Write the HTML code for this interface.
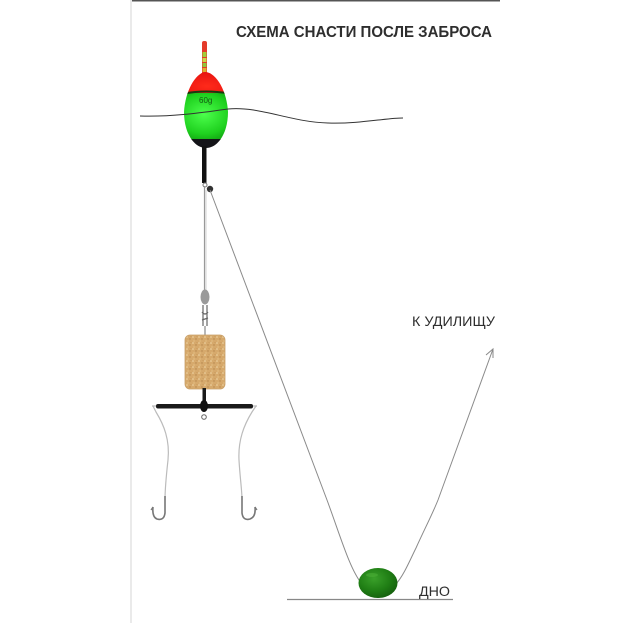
<!DOCTYPE html>
<html><head><meta charset="utf-8"><style>
html,body{margin:0;padding:0;background:#fff;}
svg{display:block;}
</style></head><body>
<svg width="640" height="640" viewBox="0 0 640 640" xmlns="http://www.w3.org/2000/svg">
<defs>
<radialGradient id="gr" cx="0.4" cy="0.45" r="0.6">
<stop offset="0" stop-color="#4cff4c"/><stop offset="0.7" stop-color="#1fd11f"/><stop offset="1" stop-color="#12a512"/>
</radialGradient>
<radialGradient id="rd" cx="0.45" cy="0.7" r="0.7">
<stop offset="0" stop-color="#ff2a1a"/><stop offset="1" stop-color="#e00d0d"/>
</radialGradient>
<radialGradient id="sk" cx="0.4" cy="0.35" r="0.7">
<stop offset="0" stop-color="#3aa02a"/><stop offset="0.6" stop-color="#1f7d14"/><stop offset="1" stop-color="#155e0e"/>
</radialGradient>
<pattern id="cork" width="6" height="6" patternUnits="userSpaceOnUse">
<rect width="6" height="6" fill="#d6a96c"/>
<circle cx="1" cy="1" r="0.8" fill="#f0d7a8"/>
<circle cx="4" cy="3" r="0.7" fill="#b3844a"/>
<circle cx="2" cy="5" r="0.6" fill="#eccb93"/>
<circle cx="5" cy="0.5" r="0.5" fill="#c49458"/>
</pattern>
<clipPath id="fb"><path d="M205.5,72 C195,73 185,92 184,112 C184,133 194,148 206,148 C218,148 228,133 228,112 C227,92 217,73 205.5,72 Z"/></clipPath>
</defs>

<!-- frame lines -->
<line x1="132" y1="0.8" x2="500" y2="0.8" stroke="#555" stroke-width="1.5"/>
<line x1="131" y1="0" x2="131" y2="623" stroke="#e3e3e3" stroke-width="1.5"/>

<!-- title -->
<text x="236" y="37" font-family="Liberation Sans, sans-serif" font-weight="bold" font-size="16" fill="#2e2e2e" textLength="256" lengthAdjust="spacingAndGlyphs">СХЕМА СНАСТИ ПОСЛЕ ЗАБРОСА</text>

<!-- float antenna -->
<rect x="202" y="41" width="5" height="34" rx="2" fill="#e43a2a"/>
<rect x="202.5" y="52" width="4" height="5" fill="#9fcf3a"/>
<rect x="202.5" y="58" width="4" height="4" fill="#c9d84a"/>
<rect x="202.5" y="63" width="4" height="4" fill="#8fc83a"/>
<rect x="202.5" y="68" width="4" height="4" fill="#e0b030"/>

<!-- float body -->
<g clip-path="url(#fb)">
<rect x="180" y="68" width="60" height="26" fill="url(#rd)"/>
<rect x="180" y="93" width="60" height="47" fill="url(#gr)"/>
<rect x="180" y="139" width="60" height="12" fill="#141418"/>
<path d="M182,94 Q206,89 232,94" stroke="#1a3a10" stroke-width="2" fill="none"/>
</g>
<text x="199" y="103" font-family="Liberation Sans, sans-serif" font-size="8" fill="#135a13">60g</text>

<!-- water line -->
<path d="M140,116 C170,117 200,113 228,109 C260,106 290,122 328,123 C360,124 385,118 403,118" stroke="#333" stroke-width="1" fill="none"/>

<!-- stem -->
<rect x="202" y="146" width="4.5" height="37" fill="#111"/>
<circle cx="205" cy="185" r="2" fill="none" stroke="#777" stroke-width="1"/>
<circle cx="210" cy="189" r="3.2" fill="#333"/>

<!-- vertical mainline to feeder -->
<line x1="204.5" y1="186" x2="204.5" y2="292" stroke="#999" stroke-width="1.2"/>
<line x1="206" y1="190" x2="206" y2="292" stroke="#c8c8c8" stroke-width="0.8"/>

<!-- grey bead & clip -->
<ellipse cx="205" cy="297" rx="4.5" ry="7.5" fill="#9a9a9a"/>
<path d="M203,305 L203,326 M207,305 L207,326 M202,312 Q205,316 208,312 M202,320 L208,318" stroke="#666" stroke-width="1.2" fill="none"/>
<line x1="205" y1="326" x2="205" y2="336" stroke="#888" stroke-width="1.2"/>

<!-- cork feeder -->
<rect x="185" y="335" width="40" height="54" rx="5" fill="url(#cork)"/>
<rect x="185" y="335" width="40" height="54" rx="5" fill="none" stroke="#c9a06a" stroke-width="0.8"/>

<!-- feeder stem & bar -->
<rect x="202.5" y="388" width="3.5" height="18" fill="#1a1a1a"/>
<rect x="156" y="404" width="97" height="4.5" rx="2" fill="#1a1a1a"/>
<ellipse cx="204" cy="406" rx="4" ry="6" fill="#111"/>
<circle cx="204" cy="417" r="2.3" fill="none" stroke="#666" stroke-width="1"/>

<!-- leaders -->
<path d="M152,406 L156,406 M153,406 L156,412 C164,425 170,440 168,460 C166,478 165,490 165,500" stroke="#bbb" stroke-width="1.2" fill="none"/>
<path d="M257,406 L253,406 M256,406 L252,412 C244,425 238,440 239,460 C240,478 242,490 242,500" stroke="#bbb" stroke-width="1.2" fill="none"/>

<!-- hooks -->
<path d="M165,496 L165,513 Q164,521 157,519 Q152,517 153,507" stroke="#777" stroke-width="1.6" fill="none"/>
<path d="M153,507 L151,510" stroke="#777" stroke-width="1.2"/>
<path d="M242,496 L242,513 Q243,521 250,519 Q256,517 255,507" stroke="#777" stroke-width="1.6" fill="none"/>
<path d="M255,507 L257,510" stroke="#777" stroke-width="1.2"/>

<!-- main line -->
<path d="M210,190 L327,500 C340,535 350,570 362,584 M396,584 C404,575 410,560 416,548 C425,528 432,515 438,500 L493,349" stroke="#8a8a8a" stroke-width="1" fill="none"/>
<path d="M486,355 L493,349 L493,358" stroke="#8a8a8a" stroke-width="1" fill="none"/>

<!-- bottom -->
<line x1="287" y1="599.5" x2="453" y2="599.5" stroke="#888" stroke-width="1.3"/>

<!-- sinker -->
<ellipse cx="378" cy="583" rx="19.5" ry="15" fill="url(#sk)"/>
<ellipse cx="372" cy="575" rx="6" ry="2" fill="#4fb43a" opacity="0.5"/>

<!-- labels -->
<text x="412" y="326" font-family="Liberation Sans, sans-serif" font-size="14" fill="#2e2e2e" textLength="83" lengthAdjust="spacingAndGlyphs">К УДИЛИЩУ</text>
<text x="419" y="596" font-family="Liberation Sans, sans-serif" font-size="14" fill="#2e2e2e" textLength="31" lengthAdjust="spacingAndGlyphs">ДНО</text>
</svg>
</body></html>
